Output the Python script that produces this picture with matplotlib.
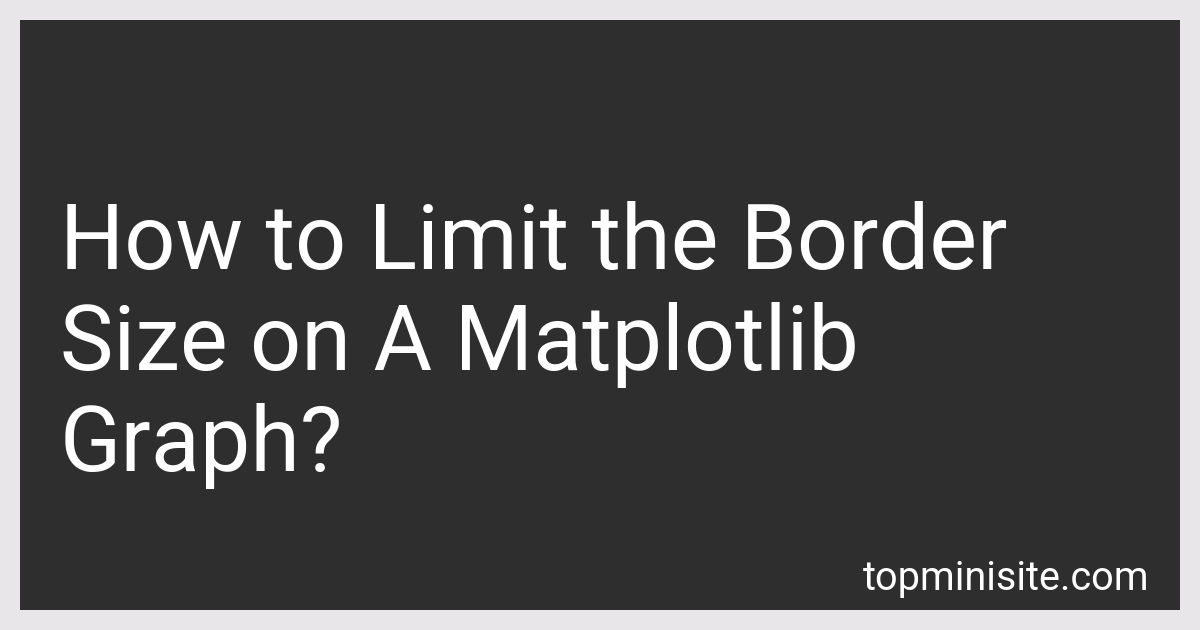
import matplotlib.pyplot as plt
from matplotlib.patches import Rectangle

W, H = 1200, 630

# card text
title_lines = ['How to Limit the Border', 'Size on A Matplotlib', 'Graph?']
line_baselines = [269, 370, 471]   # px from top
site = 'topminisite.com'

bg_color = '#e8e6e9'
card_color = '#2e2e2e'

fig = plt.figure(figsize=(W / 100, H / 100), dpi=100)
fig.patch.set_facecolor(bg_color)

# dark card
fig.patches.append(Rectangle((20 / W, 20 / H), 1160 / W, 590 / H,
                             transform=fig.transFigure, facecolor=card_color,
                             edgecolor='none', zorder=0))

for line, yb in zip(title_lines, line_baselines):
    fig.text(60 / W, 1 - yb / H, line, color='white', fontsize=64.8,
             family='Roboto', ha='left', va='baseline')

fig.text(1149 / W, 1 - 590 / H, site, color='white', fontsize=28.5,
         family='Roboto', ha='right', va='baseline')

plt.savefig('out.png', dpi=100, facecolor=bg_color)
